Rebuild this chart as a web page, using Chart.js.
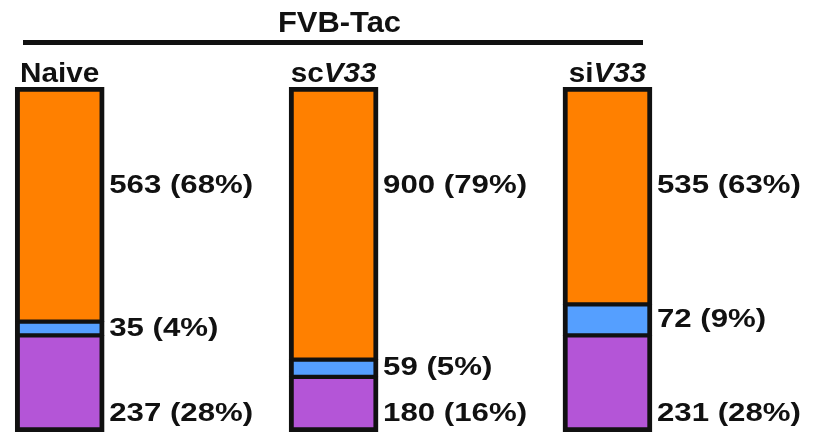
<!DOCTYPE html>
<html>
<head>
<meta charset="utf-8">
<title>FVB-Tac</title>
<script src="https://cdn.jsdelivr.net/npm/chart.js@4.4.1/dist/chart.umd.min.js"></script>
<style>
  html, body { margin: 0; padding: 0; background: #fff; }
  #wrap { width: 817px; height: 434px; }
</style>
</head>
<body>
<div id="wrap"><canvas id="chart" width="817" height="434"></canvas></div>
<script>
// Bar groups; the second part is set in italics (gene name)
const groupPlain = ['Naive', 'sc', 'si'];
const groupItalic = ['', 'V33', 'V33'];
const groupPos = [0, 1, 2];

// Segment counts and shares, per group
const orangeCounts = [563, 900, 535];
const orangePct = [68, 79, 63];
const blueCounts = [35, 59, 72];
const bluePct = [4, 5, 9];
const purpleCounts = [237, 180, 231];
const purplePct = [28, 16, 28];

const chartTitle = 'FVB-Tac';

const FONT = '"Liberation Sans", Arial, Helvetica, sans-serif';
const INK = '#111111';

// the figure's lettering is a bit wider than plain Arial
function stretchText(ctx, text, x, y, sx) {
    ctx.save();
    ctx.translate(x, y);
    ctx.scale(sx, 1);
    ctx.fillText(text, 0, 0);
    ctx.restore();
}

function points(values) {
    return values.map((v, i) => ({ x: groupPos[i], y: v }));
}

const series = [
    { label: 'purple', counts: purpleCounts, pct: purplePct, color: '#b455d7', anchor: 6 },
    { label: 'blue', counts: blueCounts, pct: bluePct, color: '#559fff', anchor: 'mid' },
    { label: 'orange', counts: orangeCounts, pct: orangePct, color: '#ff8000', anchor: 72 }
];

const OUT = 5;      // outer frame
const SEP = 2.5;    // half of the divider between segments

const annotate = {
    id: 'annotate',
    afterDatasetsDraw(chart) {
        const ctx = chart.ctx;
        const area = chart.chartArea;
        const yScale = chart.scales.y;
        ctx.save();
        ctx.fillStyle = INK;
        ctx.textAlign = 'left';
        ctx.textBaseline = 'alphabetic';

        // Title and the rule under it
        ctx.font = 'bold 30px ' + FONT;
        const tw = ctx.measureText(chartTitle).width * 1.03;
        stretchText(ctx, chartTitle, 339.5 - tw / 2, 32, 1.03);
        ctx.fillRect(23, 40, 620, 5);

        // Group names above the bars
        const sxGroup = 1.1;
        chart.getDatasetMeta(0).data.forEach((bar, i) => {
            ctx.font = 'bold 27px ' + FONT;
            const w1 = ctx.measureText(groupPlain[i]).width * sxGroup;
            ctx.font = 'italic bold 27px ' + FONT;
            const w2 = ctx.measureText(groupItalic[i]).width * sxGroup;
            const x0 = bar.x - (w1 + w2) / 2;
            const base = area.top - 5;
            ctx.font = 'bold 27px ' + FONT;
            stretchText(ctx, groupPlain[i], x0, base, sxGroup);
            if (groupItalic[i]) {
                ctx.font = 'italic bold 27px ' + FONT;
                stretchText(ctx, groupItalic[i], x0 + w1, base, sxGroup);
            }
        });

        // Count (share) labels to the right of each bar
        ctx.font = 'bold 26px ' + FONT;
        series.forEach((s, d) => {
            chart.getDatasetMeta(d).data.forEach((bar, i) => {
                const x = bar.x + bar.width / 2 + 5;
                let cy;
                if (s.anchor === 'mid') {
                    cy = (bar.y + bar.base) / 2 - 2;
                } else {
                    cy = yScale.getPixelForValue(s.anchor);
                }
                const text = `${s.counts[i]} (${s.pct[i]}%)`;
                stretchText(ctx, text, x, cy + 9.3, 1.2);
            });
        });
        ctx.restore();
    }
};

const chart = new Chart(document.getElementById('chart'), {
    type: 'bar',
    data: {
        datasets: series.map((s, d) => ({
            label: s.label,
            data: points(s.pct),
            backgroundColor: s.color,
            borderColor: INK,
            borderSkipped: false,
            borderWidth: {
                left: OUT,
                right: OUT,
                top: d === series.length - 1 ? OUT : SEP,
                bottom: d === 0 ? OUT : SEP
            },
            barThickness: 89
        }))
    },
    options: {
        responsive: false,
        animation: false,
        layout: {
            padding: { top: 87, bottom: 2, left: 0, right: 0 }
        },
        plugins: {
            legend: { display: false },
            title: { display: false },
            tooltip: { enabled: false }
        },
        scales: {
            x: {
                type: 'linear',
                stacked: true,
                offset: false,
                min: -0.218,
                max: 2.765,
                display: false
            },
            y: {
                stacked: true,
                min: 0,
                max: 100,
                display: false
            }
        }
    },
    plugins: [annotate]
});
</script>
</body>
</html>
